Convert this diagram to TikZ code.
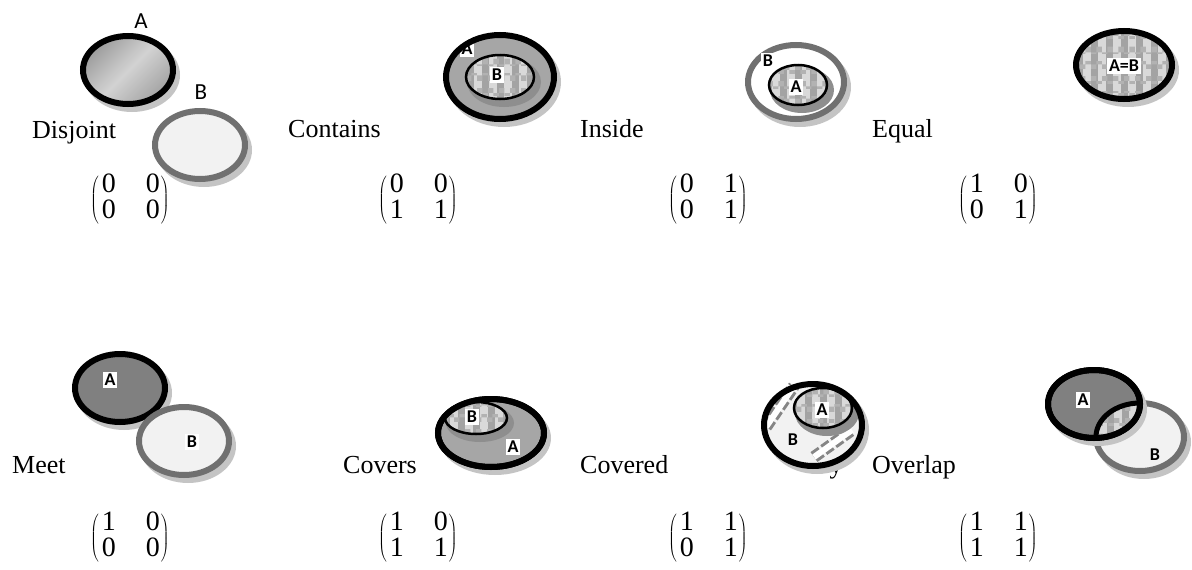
\documentclass[tikz,border=0pt]{standalone}
\usepackage{fontspec}
\setmainfont{Liberation Serif}
\newfontfamily\labfont{Carlito}
\usetikzlibrary{patterns}

\definecolor{ringgray}{HTML}{707070}
\definecolor{paleB}{HTML}{F2F2F2}
\definecolor{midA}{HTML}{A6A6A6}
\definecolor{darkA}{HTML}{808080}
\definecolor{shadowgray}{HTML}{C4C4C4}
\definecolor{innershadow}{HTML}{8E8E8E}

\tikzset{
  every node/.style={inner sep=0pt},
  relname/.style={font=\fontsize{26}{30}\selectfont, anchor=base west},
  tag/.style={font=\labfont\bfseries\fontsize{18}{18}\selectfont, fill=white, inner sep=1.8pt},
  plaintag/.style={font=\labfont\fontsize{23}{23}\selectfont},
  blackring/.style={draw=black, line width=6pt},
  grayring/.style={draw=ringgray, line width=6pt},
  thinring/.style={draw=black, line width=2.5pt},
  matnode/.style={anchor=west},
  stripedge/.style={draw=ringgray!85, line width=12pt, dash pattern=on 9pt off 3pt},
  stripcore/.style={draw=white, line width=6pt},
}

% 2x2 relation matrix: digits set as text between stretched parentheses
\newcommand\relmat[4]{%
  $\left(\vcenter{\hbox{\fontsize{28}{24}\selectfont
    \begin{tabular}{@{\hspace{3pt}}c@{\hspace{30pt}}c@{\hspace{1pt}}}#1&#2\\#3&#4\end{tabular}}}\right)$}

% soft shadow below an ellipse: centre x, centre y, x radius, y radius
\newcommand\dropshadow[5][shadowgray]{%
  \fill[#1] (#2+4,#3+5) ellipse [x radius=#4pt+3pt, y radius=#5pt+3pt];}

% patterned fill (stripes and checks) clipped to an ellipse
\newcommand\checkerfill[4]{%
  \begin{scope}[shift={(#1,#2)}]
    \clip (0,0) ellipse [x radius=#3pt, y radius=#4pt];
    \fill[gray!30] (-70,-70) rectangle (70,70);
    \foreach \k in {-5,...,5}
      \fill[gray!72] (\k*15-3.5,-70) rectangle ++(7,140);
    \foreach \k in {-5,...,5}
      \fill[pattern=checkerboard, pattern color=gray!60] (-70,\k*15-3.5) rectangle ++(140,7);
  \end{scope}}

\begin{document}
\begin{tikzpicture}[x=1pt, y=-1pt]
\useasboundingbox (0,0) rectangle (1192,570);

% ---------------- Disjoint ----------------
\dropshadow{128}{70}{45}{34}
\path[blackring, shading=axis, top color=gray!78, bottom color=gray!72,
      middle color=gray!35, shading angle=45] (128,70) ellipse [x radius=45pt, y radius=34pt];
\dropshadow{200}{145}{45}{34}
\path[grayring, fill=paleB] (200,145) ellipse [x radius=45pt, y radius=34pt];
\node[plaintag] (dA) at (141,21) {A};
\node[plaintag] (dB) at (201,92) {B};
\node[relname] (lDisjoint) at (32,138) {Disjoint};
\node[matnode] (mDisjoint) at (90,200) {\relmat{0}{0}{0}{0}};

% ---------------- Contains ----------------
\dropshadow{500}{77}{54}{42}
\fill[midA] (500,77) ellipse [x radius=54pt, y radius=42pt];
\dropshadow[innershadow]{500}{77}{34}{22}
\checkerfill{500}{77}{34}{22}
\draw[thinring] (500,77) ellipse [x radius=34pt, y radius=22pt];
\node[tag] (cA) at (467,49) {A};
\node[tag] (cB) at (497,75) {B};
\draw[blackring] (500,77) ellipse [x radius=54pt, y radius=42pt];
\node[relname] (lContains) at (288,137) {Contains};
\node[matnode] (mContains) at (378,200) {\relmat{0}{0}{1}{1}};

% ---------------- Inside ----------------
\dropshadow{796}{82}{48}{37}
\path[grayring, fill=white] (796,82) ellipse [x radius=48pt, y radius=37pt];
\dropshadow[innershadow]{798}{85}{29}{20}
\checkerfill{798}{85}{29}{20}
\draw[thinring] (798,85) ellipse [x radius=29pt, y radius=20pt];
\node[tag] (iA) at (796,87) {A};
\node[tag] (iB) at (768,61) {B};
\node[relname] (lInside) at (580,137) {Inside};
\node[matnode] (mInside) at (668,200) {\relmat{0}{1}{0}{1}};

% ---------------- Equal ----------------
\dropshadow{1124}{65}{48}{34}
\checkerfill{1124}{65}{48}{34}
\draw[blackring] (1124,65) ellipse [x radius=48pt, y radius=34pt];
\node[tag] (eAB) at (1124,66) {A=B};
\node[relname] (lEqual) at (872,137) {Equal};
\node[matnode] (mEqual) at (958,200) {\relmat{1}{0}{0}{1}};

% ---------------- Meet ----------------
\dropshadow{120}{388}{45}{34}
\path[blackring, fill=darkA] (120,388) ellipse [x radius=45pt, y radius=34pt];
\dropshadow{184}{441}{45}{34}
\path[grayring, fill=paleB] (184,441) ellipse [x radius=45pt, y radius=34pt];
\node[tag] (mA) at (110,380) {A};
\node[tag] (mB) at (192,442) {B};
\node[relname] (lMeet) at (12,473) {Meet};
\node[matnode] (mMeet) at (90,538) {\relmat{1}{0}{0}{0}};

% ---------------- Covers ----------------
\dropshadow{491}{433}{53}{34}
\path[blackring, fill=midA] (491,433) ellipse [x radius=53pt, y radius=34pt];
\dropshadow[innershadow]{476}{418}{31}{16}
\checkerfill{476}{418}{31}{16}
\draw[thinring] (476,418) ellipse [x radius=31pt, y radius=16pt];
\draw[blackring] (491,433) ellipse [x radius=53pt, y radius=34pt];
\node[tag] (vB) at (472,417) {B};
\node[tag] (vA) at (513,447) {A};
\node[relname] (lCovers) at (343,473) {Covers};
\node[matnode] (mCovers) at (378,538) {\relmat{1}{0}{1}{1}};

% ---------------- Covered By ----------------
\node[relname] (lCovered) at (580,473) {Covered};
\node[relname] (lBy) at (812,473) {By};
\dropshadow{813}{425}{49}{41}
\fill[paleB] (813,425) ellipse [x radius=49pt, y radius=41pt];
\coordinate (s1a) at (766,427);
\coordinate (s1b) at (794,386);
\coordinate (s2a) at (814,457);
\coordinate (s2b) at (852,430);
\draw[stripedge] (s1a) -- (s1b);
\draw[stripcore] (s1a) -- (s1b);
\draw[stripedge] (s2a) -- (s2b);
\draw[stripcore] (s2a) -- (s2b);
\dropshadow[innershadow]{823}{408}{29}{20}
\checkerfill{823}{408}{29}{20}
\draw[thinring] (823,408) ellipse [x radius=29pt, y radius=20pt];
\draw[blackring] (813,425) ellipse [x radius=49pt, y radius=41pt];
\node[tag] (dbA) at (822,410) {A};
\node[tag, fill=paleB] (dbB) at (793,440) {B};
\node[matnode] (mCovered) at (668,538) {\relmat{1}{1}{0}{1}};

% ---------------- Overlap ----------------
\dropshadow{1140}{437}{44}{34}
\path[grayring, fill=paleB] (1140,437) ellipse [x radius=44pt, y radius=34pt];
\dropshadow{1094}{404}{46}{34}
\path[blackring, fill=darkA] (1094,404) ellipse [x radius=46pt, y radius=34pt];
\begin{scope}
  \clip (1094,404) ellipse [x radius=46pt, y radius=34pt];
  \checkerfill{1140}{437}{44}{34}
  \draw[black, line width=5pt] (1140,437) ellipse [x radius=44pt, y radius=34pt];
\end{scope}
\draw[blackring] (1094,404) ellipse [x radius=46pt, y radius=34pt];
\node[tag] (oA) at (1083,400) {A};
\node[tag, fill=paleB] (oB) at (1155,455) {B};
\node[relname] (lOverlap) at (872,473) {Overlap};
\node[matnode] (mOverlap) at (958,538) {\relmat{1}{1}{1}{1}};

\end{tikzpicture}
\end{document}
